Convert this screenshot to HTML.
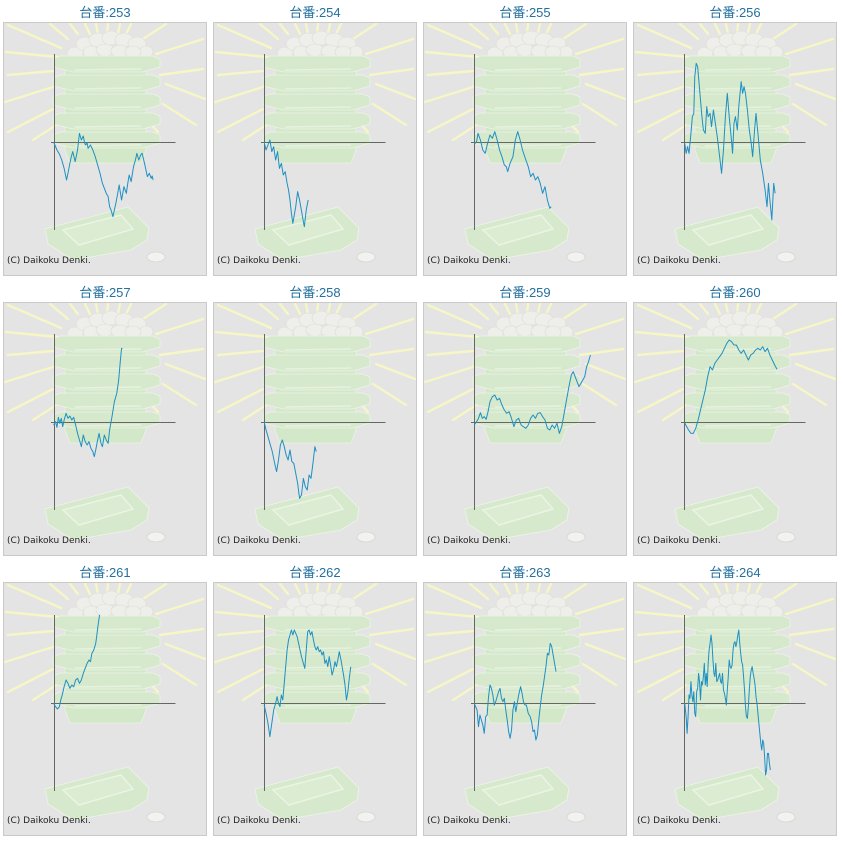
<!DOCTYPE html>
<html><head><meta charset="utf-8"><style>
html,body{margin:0;padding:0;background:#fff;width:843px;height:842px;overflow:hidden}
svg{display:block}
.t{font-family:"Liberation Sans","Noto Sans CJK JP",sans-serif;font-size:13px;fill:#23709f;text-anchor:middle}
.c{font-family:"DejaVu Sans","Liberation Sans",sans-serif;font-size:9px;fill:#222}
.ln{fill:none;stroke:#1e90c2;stroke-width:1;stroke-linejoin:round}
</style></head><body>
<svg width="843" height="842" viewBox="0 0 843 842" xmlns="http://www.w3.org/2000/svg">
<defs>
<symbol id="bg" viewBox="0 0 204 254" width="204" height="254">
<rect x="0" y="0" width="204" height="254" fill="#e4e4e4"/>
<g stroke="#f6f6c6" stroke-width="2.4" stroke-linecap="round">
<line x1="5" y1="3" x2="58" y2="26"/>
<line x1="3" y1="30" x2="55" y2="35"/>
<line x1="5" y1="53" x2="50" y2="49"/>
<line x1="2" y1="80" x2="50" y2="65"/>
<line x1="5" y1="110" x2="50" y2="87"/>
<line x1="30" y1="118" x2="58" y2="100"/>
<line x1="47" y1="2" x2="65" y2="17"/>
<line x1="67" y1="2" x2="75" y2="12"/>
<line x1="82" y1="2" x2="87" y2="12"/>
<line x1="93" y1="2" x2="95" y2="12"/>
<line x1="105" y1="2" x2="104" y2="12"/>
<line x1="117" y1="2" x2="115" y2="11"/>
<line x1="128" y1="2" x2="123" y2="12"/>
<line x1="163" y1="2" x2="140" y2="17"/>
<line x1="200" y1="17" x2="153" y2="32"/>
<line x1="200" y1="47" x2="157" y2="53"/>
<line x1="163" y1="62" x2="202" y2="77"/>
<line x1="160" y1="82" x2="193" y2="103"/>
<line x1="143" y1="97" x2="155" y2="110"/>
</g>
<g fill="#eeeeea" stroke="#dedcd4" stroke-width="0.6">
<ellipse cx="72" cy="31" rx="8" ry="6"/>
<ellipse cx="82" cy="22" rx="9" ry="7"/>
<ellipse cx="95" cy="18" rx="9" ry="7"/>
<ellipse cx="108" cy="16" rx="9" ry="7"/>
<ellipse cx="121" cy="18" rx="9" ry="7"/>
<ellipse cx="134" cy="22" rx="9" ry="7"/>
<ellipse cx="143" cy="30" rx="7" ry="6"/>
<ellipse cx="88" cy="30" rx="8" ry="6"/>
<ellipse cx="102" cy="28" rx="9" ry="6"/>
<ellipse cx="117" cy="29" rx="9" ry="6"/>
<ellipse cx="130" cy="30" rx="8" ry="6"/>
</g>
<polygon points="62,34 143,34 143,128 138,141 67,141 62,128" fill="#d3e7c9" stroke="#eaf3e4" stroke-width="0.8"/>
<g fill="#d6e9cc" stroke="#ecf5e6" stroke-width="0.8">
<polygon points="50,37 57,34 150,34 157,37 157,45 140,50 70,50 50,45"/>
<polygon points="50,56 57,53 150,53 157,56 157,64 140,69 70,69 50,64"/>
<polygon points="50,75 57,72 150,72 157,75 157,83 140,88 70,88 50,83"/>
<polygon points="50,94 57,91 150,91 157,94 157,102 140,107 70,107 50,102"/>
<polygon points="50,113 57,110 150,110 157,113 157,121 140,126 70,126 50,121"/>
</g>
<g stroke="#e6f2de" stroke-width="1.6">
<line x1="72" y1="48" x2="138" y2="47"/>
<line x1="72" y1="67" x2="138" y2="66"/>
<line x1="72" y1="86" x2="138" y2="85"/>
<line x1="72" y1="105" x2="138" y2="104"/>
<line x1="72" y1="124" x2="138" y2="123"/>
</g>
<polygon points="42,207 125,185 146,206 144,218 128,228 70,238 45,222" fill="#d6e9cd" stroke="#edf5e8" stroke-width="0.8"/>
<polygon points="60,208 118,193 130,207 76,223" fill="#dbecd2" stroke="#eaf4e4" stroke-width="1.5"/>
<ellipse cx="153" cy="235" rx="9" ry="5" fill="#f2f2f0" stroke="#d6d6ce" stroke-width="0.8"/>
<rect x="0.5" y="0.5" width="203" height="253" fill="none" stroke="#cacaca" stroke-width="1"/>
</symbol>
<g id="ax" stroke="#666" stroke-width="1">
<line x1="51.5" y1="32" x2="51.5" y2="208"/>
<line x1="48" y1="120.5" x2="172.5" y2="120.5"/>
</g>
</defs>

<g>
<use href="#bg" x="3" y="22"/><use href="#bg" x="213" y="22"/><use href="#bg" x="423" y="22"/><use href="#bg" x="633" y="22"/>
<use href="#bg" x="3" y="302"/><use href="#bg" x="213" y="302"/><use href="#bg" x="423" y="302"/><use href="#bg" x="633" y="302"/>
<use href="#bg" x="3" y="582"/><use href="#bg" x="213" y="582"/><use href="#bg" x="423" y="582"/><use href="#bg" x="633" y="582"/>
</g>
<g>
<use href="#ax" x="3" y="22"/><use href="#ax" x="213" y="22"/><use href="#ax" x="423" y="22"/><use href="#ax" x="633" y="22"/>
<use href="#ax" x="3" y="302"/><use href="#ax" x="213" y="302"/><use href="#ax" x="423" y="302"/><use href="#ax" x="633" y="302"/>
<use href="#ax" x="3" y="583"/><use href="#ax" x="213" y="583"/><use href="#ax" x="423" y="583"/><use href="#ax" x="633" y="583"/>
</g>

<text class="t" x="105" y="17">台番:253</text>
<text class="t" x="315" y="17">台番:254</text>
<text class="t" x="525" y="17">台番:255</text>
<text class="t" x="735" y="17">台番:256</text>
<text class="t" x="105" y="297">台番:257</text>
<text class="t" x="315" y="297">台番:258</text>
<text class="t" x="525" y="297">台番:259</text>
<text class="t" x="735" y="297">台番:260</text>
<text class="t" x="105" y="577">台番:261</text>
<text class="t" x="315" y="577">台番:262</text>
<text class="t" x="525" y="577">台番:263</text>
<text class="t" x="735" y="577">台番:264</text>

<text class="c" x="7" y="263">(C) Daikoku Denki.</text>
<text class="c" x="217" y="263">(C) Daikoku Denki.</text>
<text class="c" x="427" y="263">(C) Daikoku Denki.</text>
<text class="c" x="637" y="263">(C) Daikoku Denki.</text>
<text class="c" x="7" y="543">(C) Daikoku Denki.</text>
<text class="c" x="217" y="543">(C) Daikoku Denki.</text>
<text class="c" x="427" y="543">(C) Daikoku Denki.</text>
<text class="c" x="637" y="543">(C) Daikoku Denki.</text>
<text class="c" x="7" y="823">(C) Daikoku Denki.</text>
<text class="c" x="217" y="823">(C) Daikoku Denki.</text>
<text class="c" x="427" y="823">(C) Daikoku Denki.</text>
<text class="c" x="637" y="823">(C) Daikoku Denki.</text>

<g transform="translate(45,50) scale(0.47847,0.33333)">
<polyline class="ln" vector-effect="non-scaling-stroke" points="18,276 25,300 30,312 35,330 40,355 45,390 48,370 52,340 55,320 58,305 63,335 68,300 72,250 76,270 80,258 83,280 85,285 88,278 90,295 95,285 100,300 105,320 110,345 115,370 120,400 124,415 128,430 132,440 135,470 138,480 142,500 148,460 152,430 155,405 160,450 165,410 170,430 173,400 176,375 180,395 185,350 189,330 192,310 196,330 200,315 203,310 208,340 211,360 214,380 218,370 222,385 224,378 226,390"/>
<polyline class="ln" vector-effect="non-scaling-stroke" points="458,276 462,300 466,285 470,270 474,305 478,290 482,330 486,305 490,355 494,340 498,375 502,365 506,400 509,420 512,450 515,490 518,520 521,495 524,470 528,425 532,450 537,490 540,515 542,530 546,480 550,450"/>
<polyline class="ln" vector-effect="non-scaling-stroke" points="897,283 902,275 905,250 910,270 915,300 920,310 925,280 930,255 935,265 940,245 945,270 950,300 955,320 960,345 964,350 967,365 972,340 978,320 983,270 988,245 993,270 998,300 1005,330 1010,350 1015,380 1020,370 1025,390 1030,380 1035,400 1040,430 1045,410 1050,450 1055,475 1058,470"/>
<polyline class="ln" vector-effect="non-scaling-stroke" points="1337,280 1340,310 1343,290 1346,310 1350,250 1353,200 1356,190 1358,80 1361,40 1364,50 1367,100 1370,150 1373,200 1376,240 1380,250 1383,170 1386,200 1390,190 1393,230 1397,180 1400,210 1405,260 1410,320 1414,370 1418,300 1422,200 1426,130 1430,200 1434,260 1437,310 1440,220 1443,200 1447,240 1450,170 1455,95 1458,130 1461,110 1464,130 1468,180 1472,240 1476,280 1479,320 1483,240 1486,190 1490,250 1495,330 1500,370 1505,420 1509,470 1512,400 1515,450 1519,510 1523,400 1526,430"/>
</g>

<g transform="translate(45,330) scale(0.47847,0.33333)">
<polyline class="ln" vector-effect="non-scaling-stroke" points="18,285 22,275 25,292 28,262 31,280 34,265 37,290 40,270 44,250 48,265 52,258 56,270 60,262 64,285 68,310 72,330 76,350 80,315 84,335 88,345 92,335 96,355 100,365 103,380 106,360 110,330 113,310 117,340 120,350 124,315 128,330 132,340 135,300 140,260 145,215 150,190 154,150 157,100 160,55 162,55"/>
<polyline class="ln" vector-effect="non-scaling-stroke" points="458,276 462,300 466,320 470,340 475,365 480,400 484,425 488,390 492,345 496,330 500,350 504,375 508,390 512,360 516,395 520,400 524,430 528,460 532,505 536,495 540,445 544,470 548,480 552,435 556,445 560,400 564,350 567,365"/>
<polyline class="ln" vector-effect="non-scaling-stroke" points="897,285 902,275 906,265 910,248 914,265 918,260 922,268 926,245 930,215 935,200 940,195 945,210 950,205 955,225 960,240 965,250 970,245 975,265 980,290 985,270 990,265 995,285 1000,290 1005,295 1010,285 1015,265 1020,255 1025,265 1030,250 1035,248 1040,260 1045,270 1050,295 1055,300 1060,285 1065,295 1070,280 1075,310 1080,290 1085,250 1090,210 1095,170 1100,135 1104,125 1108,140 1112,155 1116,170 1120,160 1124,150 1128,140 1132,110 1136,95 1140,75"/>
<polyline class="ln" vector-effect="non-scaling-stroke" points="1337,278 1341,290 1345,300 1350,310 1355,310 1360,295 1365,270 1370,240 1375,210 1380,180 1385,140 1390,110 1395,120 1400,100 1405,90 1410,80 1415,70 1420,55 1425,40 1430,30 1435,35 1440,45 1445,45 1450,60 1455,70 1460,60 1465,75 1470,90 1475,75 1480,70 1485,60 1490,55 1495,60 1500,50 1505,65 1510,55 1515,75 1520,90 1525,105 1530,118"/>
</g>

<g transform="translate(45,610) scale(0.47847,0.33333)">
<polyline class="ln" vector-effect="non-scaling-stroke" points="18,280 22,290 26,297 30,290 33,270 36,255 40,230 44,210 48,220 52,235 56,225 60,230 64,210 68,205 72,220 76,210 80,190 84,175 88,160 92,150 95,155 98,130 102,120 106,100 108,80 110,55 112,35 114,15"/>
<polyline class="ln" vector-effect="non-scaling-stroke" points="458,285 462,310 466,340 470,380 474,340 478,300 482,280 485,260 488,280 491,290 494,255 497,270 500,220 503,170 506,120 509,90 512,75 515,60 518,75 521,60 524,70 527,80 530,100 533,120 536,140 540,160 543,175 546,120 549,65 552,60 555,75 558,65 561,90 564,110 567,120 570,110 573,125 576,120 579,135 582,125 585,160 588,150 591,170 594,140 597,165 600,195 603,180 606,155 609,170 612,150 615,125 618,145 621,170 624,195 627,225 630,270 633,245 636,205 639,170"/>
<polyline class="ln" vector-effect="non-scaling-stroke" points="897,280 900,290 903,300 906,350 909,315 912,330 915,345 918,370 921,320 924,315 927,260 930,225 933,235 936,255 939,285 942,275 945,260 948,245 951,235 954,265 957,275 960,265 963,300 966,330 969,365 972,385 975,360 978,300 981,275 984,305 987,280 990,255 994,230 997,250 1000,275 1003,285 1006,285 1010,310 1014,320 1017,335 1020,365 1023,360 1026,390 1029,375 1032,330 1035,290 1038,255 1041,230 1044,200 1047,170 1050,130 1053,135 1056,100 1059,110 1062,135 1065,160 1068,185"/>
<polyline class="ln" vector-effect="non-scaling-stroke" points="1337,280 1340,320 1342,370 1344,320 1346,255 1348,265 1350,215 1352,255 1354,275 1356,245 1358,310 1360,320 1362,245 1364,235 1366,190 1368,215 1370,270 1372,215 1374,225 1376,200 1378,160 1380,225 1382,190 1384,230 1386,160 1388,120 1390,100 1392,75 1394,100 1396,150 1398,190 1400,200 1402,160 1404,215 1406,210 1408,200 1410,190 1412,215 1414,220 1416,190 1418,240 1420,250 1422,265 1424,285 1426,240 1428,200 1430,150 1432,170 1434,175 1436,165 1438,120 1440,100 1442,95 1444,110 1446,95 1448,75 1450,60 1452,100 1454,130 1456,155 1458,165 1460,200 1462,240 1464,290 1466,320 1468,325 1470,290 1472,240 1474,200 1476,180 1478,170 1480,190 1482,205 1484,225 1486,260 1488,280 1490,310 1492,340 1494,370 1496,400 1498,420 1500,390 1502,400 1504,440 1506,495 1508,480 1510,430 1512,430 1514,460 1516,480"/>
</g>
</svg>
</body></html>
